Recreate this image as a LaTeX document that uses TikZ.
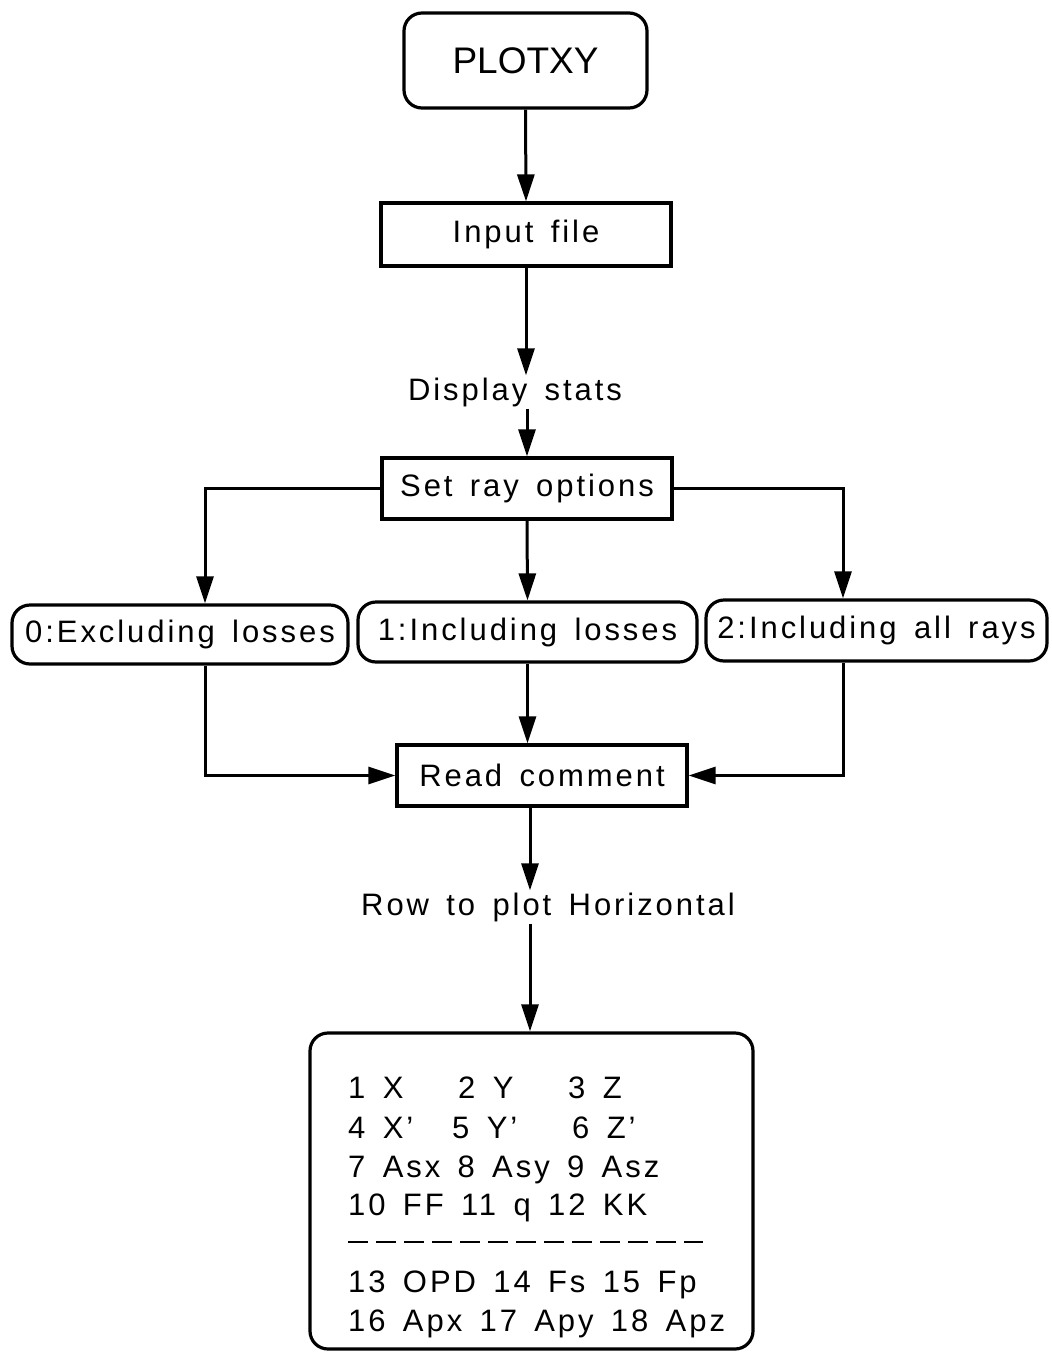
\documentclass[tikz,border=0pt]{standalone}
\usepackage{fontspec}
\setmainfont[LetterSpace=9.5,WordSpace=1.5]{Liberation Sans}
\newfontfamily\plainfont{Liberation Sans}
\usetikzlibrary{arrows.meta}
\begin{document}
\begin{tikzpicture}[x=1pt,y=-1pt,
  box/.style={draw,line width=3.2pt,font=\fontsize{31}{36}\selectfont,inner sep=0pt},
  rbox/.style={box,rounded corners=18pt},
  arr/.style={line width=3pt,-{Triangle[length=27pt,width=17pt]}},
  lbl/.style={font=\fontsize{31}{36}\selectfont,inner sep=2pt},
  item/.style={font=\fontsize{31}{36}\selectfont,inner sep=0pt,anchor=base west}]
\useasboundingbox (0,0) rectangle (1052,1352);
\coordinate (lx) at (205,0);
\coordinate (rx) at (843,0);
\coordinate (cx) at (530,0);
\node[rbox,minimum width=243pt,minimum height=95pt,font=\plainfont\fontsize{37}{44}\selectfont] (plot) at (525.5,60.5) {PLOTXY};
\node[box,minimum width=290pt,minimum height=63pt] (input) at (526,234.5) {Input file};
\node[lbl] (disp) at (515,392) {Display stats};
\node[box,minimum width=290pt,minimum height=61pt] (set) at (527,488.5) {Set ray options};
\node[rbox,minimum width=336pt,minimum height=59pt] (excl) at (180,634.5) {0:Excluding losses};
\node[rbox,minimum width=339pt,minimum height=60pt] (incl) at (527.5,632) {1:Including losses};
\node[rbox,minimum width=341pt,minimum height=61pt] (all) at (876.5,630.5) {2:Including all rays};
\node[box,minimum width=290pt,minimum height=61pt] (read) at (542,775.5) {Read comment};
\node[lbl] (row) at (548,907) {Row to plot Horizontal};
\node[rbox,minimum width=443pt,minimum height=316pt] (list) at (531.5,1191) {};
\draw[arr] (plot.south) -- (input.north);
\draw[arr] (input.south) -- (disp.north -| input.south);
\draw[arr] (disp.south -| set.north) -- (set.north);
\draw[arr] (set.west) -| (excl.north -| lx);
\draw[arr] (set.south) -- (incl.north);
\draw[arr] (set.east) -| (all.north -| rx);
\draw[arr] (excl.south -| lx) |- (read.west);
\draw[arr] (incl.south) -- (read.north -| incl.south);
\draw[arr] (all.south -| rx) |- (read.east);
\draw[arr] (read.south -| cx) -- (row.north -| cx);
\draw[arr] (row.south -| cx) -- (list.north -| cx);
\node[item] (a1) at (348,1098) {1 X};
\node[item] (a2) at (458,1098) {2 Y};
\node[item] (a3) at (568,1098) {3 Z};
\node[item] (b1) at (348,1138) {4 X'};
\node[item] (b2) at (452,1138) {5 Y'};
\node[item] (b3) at (572,1138) {6 Z'};
\node[item] (c1) at (348,1177) {7 Asx 8 Asy 9 Asz};
\node[item] (d1) at (348,1215) {10 FF 11 q 12 KK};
\draw[line width=2.2pt,dash pattern=on 20pt off 8pt] (348,1242) -- (703,1242);
\node[item] (e1) at (348,1292) {13 OPD 14 Fs 15 Fp};
\node[item] (f1) at (348,1331) {16 Apx 17 Apy 18 Apz};
\end{tikzpicture}
\end{document}
